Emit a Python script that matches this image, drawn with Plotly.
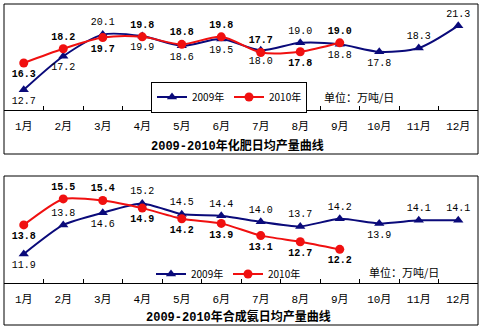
import plotly.graph_objects as go

months = ["1月", "2月", "3月", "4月", "5月", "6月", "7月", "8月", "9月", "10月", "11月", "12月"]

fert_2009 = [12.7, 17.2, 20.1, 19.9, 18.6, 19.5, 18.0, 19.0, 18.8, 17.8, 18.3, 21.3]
fert_2010 = [16.3, 18.2, 19.7, 19.8, 18.8, 19.8, 17.7, 17.8, 19.0]
fert_2009_pos = ["bottom center", "bottom center", "top center", "bottom center", "bottom center",
                 "bottom center", "bottom center", "top center", "bottom center", "bottom center",
                 "top center", "top center"]
fert_2010_pos = ["bottom center", "top center", "bottom center", "top center", "top center",
                 "top center", "top center", "bottom center", "top center"]

amm_2009 = [11.9, 13.8, 14.6, 15.2, 14.5, 14.4, 14.0, 13.7, 14.2, 13.9, 14.1, 14.1]
amm_2010 = [13.8, 15.5, 15.4, 14.9, 14.2, 13.9, 13.1, 12.7, 12.2]
amm_2009_pos = ["bottom center", "top center", "bottom center", "top center", "top center",
                "top center", "top center", "top center", "top center", "bottom center",
                "top center", "top center"]
amm_2010_pos = ["bottom center", "top center", "top center", "bottom center", "bottom center",
                "bottom center", "bottom center", "bottom center", "bottom center"]

title_top = "2009-2010年化肥日均产量曲线"
title_bot = "2009-2010年合成氨日均产量曲线"
unit_text = "单位：万吨/日"

NAVY = "#0a0a7a"
RED = "#f01010"
NUMFONT = "Liberation Mono, Noto Sans CJK SC, monospace"
CJK = "Noto Sans CJK SC, sans-serif"

W, H = 482, 327


def py(p):
    return 1 - p / H


def px(p):
    return (p - 4) / 474


fig = go.Figure()

fig.add_trace(go.Scatter(
    x=months, y=fert_2009, name="2009年", mode="lines+markers+text",
    line=dict(color=NAVY, width=2, shape="spline", smoothing=0.8),
    marker=dict(symbol="triangle-up", size=9, color=NAVY),
    text=[f"{v:.1f}" for v in fert_2009], textposition=fert_2009_pos,
    textfont=dict(family=NUMFONT, size=10, color="black"),
    xaxis="x", yaxis="y", legend="legend", cliponaxis=False))
fig.add_trace(go.Scatter(
    x=months[:len(fert_2010)], y=fert_2010, name="2010年", mode="lines+markers+text",
    line=dict(color=RED, width=2, shape="spline", smoothing=0.8),
    marker=dict(symbol="circle", size=9, color=RED),
    text=[f"{v:.1f}" for v in fert_2010], textposition=fert_2010_pos,
    textfont=dict(family=NUMFONT, size=10, color="black", weight="bold"),
    xaxis="x", yaxis="y", legend="legend", cliponaxis=False))

fig.add_trace(go.Scatter(
    x=months, y=amm_2009, name="2009年", mode="lines+markers+text",
    line=dict(color=NAVY, width=2, shape="spline", smoothing=0.6),
    marker=dict(symbol="triangle-up", size=9, color=NAVY),
    text=[f"{v:.1f}" for v in amm_2009], textposition=amm_2009_pos,
    textfont=dict(family=NUMFONT, size=10, color="black"),
    xaxis="x2", yaxis="y2", legend="legend2", cliponaxis=False))
fig.add_trace(go.Scatter(
    x=months[:len(amm_2010)], y=amm_2010, name="2010年", mode="lines+markers+text",
    line=dict(color=RED, width=2, shape="spline", smoothing=0.6),
    marker=dict(symbol="circle", size=9, color=RED),
    text=[f"{v:.1f}" for v in amm_2010], textposition=amm_2010_pos,
    textfont=dict(family=NUMFONT, size=10, color="black", weight="bold"),
    xaxis="x2", yaxis="y2", legend="legend2", cliponaxis=False))

xcommon = dict(type="category", categoryorder="array", categoryarray=months,
               showgrid=False, zeroline=False, ticks="inside", tickson="boundaries",
               ticklen=4, tickcolor="black", showline=True, linecolor="black", linewidth=1,
               tickfont=dict(family=NUMFONT, size=11, color="black"),
               ticklabelstandoff=6, range=[-0.5, 11.5])
ycommon = dict(visible=False, showgrid=False, zeroline=False, fixedrange=True)

legcommon = dict(orientation="h", xanchor="left", yanchor="middle",
                 font=dict(family=CJK, size=10, color="black"),
                 itemwidth=30, entrywidth=32, entrywidthmode="pixels",
                 tracegroupgap=0)

fig.update_layout(
    width=W, height=H,
    margin=dict(l=4, r=4, t=0, b=0),
    paper_bgcolor="white", plot_bgcolor="white",
    xaxis=dict(**xcommon, anchor="y", domain=[0, 1]),
    yaxis=dict(**ycommon, range=[10, 24.2], domain=[py(110), py(4)]),
    xaxis2=dict(**xcommon, anchor="y2", domain=[0, 1]),
    yaxis2=dict(**ycommon, range=[10, 17], domain=[py(283), py(176)]),
    legend=dict(**legcommon, x=px(151), y=py(97),
                bordercolor="black", borderwidth=1, bgcolor="white"),
    legend2=dict(**legcommon, x=px(151), y=py(274),
                 borderwidth=0, bgcolor="rgba(0,0,0,0)"),
    showlegend=True,
    annotations=[
        dict(text=title_top, x=px(237), y=py(146), xref="paper", yref="paper",
             xanchor="center", yanchor="middle", showarrow=False,
             font=dict(family=NUMFONT, size=12, color="black", weight="bold")),
        dict(text=title_bot, x=px(238), y=py(317), xref="paper", yref="paper",
             xanchor="center", yanchor="middle", showarrow=False,
             font=dict(family=NUMFONT, size=12, color="black", weight="bold")),
        dict(text=unit_text, x=px(359), y=py(97), xref="paper", yref="paper",
             xanchor="center", yanchor="middle", showarrow=False,
             font=dict(family=CJK, size=11, color="black")),
        dict(text=unit_text, x=px(404), y=py(272), xref="paper", yref="paper",
             xanchor="center", yanchor="middle", showarrow=False,
             font=dict(family=CJK, size=11, color="black")),
    ],
    shapes=[
        dict(type="rect", xref="paper", yref="paper", x0=0, x1=1, y0=py(154), y1=py(4),
             line=dict(color="black", width=1)),
        dict(type="rect", xref="paper", yref="paper", x0=0, x1=1, y0=py(325), y1=py(176),
             line=dict(color="black", width=1)),
    ],
)

fig.write_html("out.html")
